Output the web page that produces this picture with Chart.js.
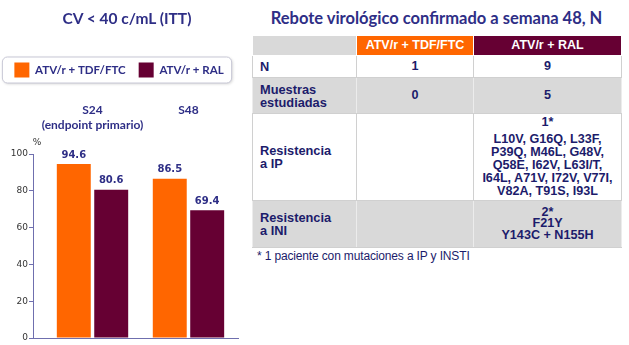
<!DOCTYPE html>
<html><head><meta charset="utf-8">
<script src="https://cdn.jsdelivr.net/npm/chart.js@4"></script>
<style>
html,body{margin:0;padding:0;background:#fff;width:629px;height:345px;overflow:hidden;}
body{position:relative;font-family:'Liberation Sans',Arial,sans-serif;}
#c{position:absolute;left:0;top:0;}
#ctitle{position:absolute;left:27px;width:200px;top:7px;text-align:center;font-family:Lato,sans-serif;font-weight:bold;font-size:15.5px;line-height:22px;color:#2e2e86;white-space:nowrap;}
#ttitle{position:absolute;left:252px;width:369px;top:7px;text-align:center;font-family:Lato,sans-serif;font-weight:bold;font-size:16.5px;line-height:22px;color:#2e2e86;white-space:nowrap;}
#tbl{position:absolute;left:252px;top:35px;border-collapse:collapse;table-layout:fixed;width:369px;}
#tbl td{padding:0;font-weight:bold;font-size:12.6px;color:#1c1c6b;text-align:center;vertical-align:middle;border:1px solid #d0d0d0;line-height:13px;white-space:nowrap;}
#tbl td.lab{text-align:left;padding-left:7px;font-size:12.8px;}
#tbl tr.gray td{background:#d9d9d9;border-left-color:#ececec;border-right-color:#ececec;}
#tbl tr.hdr td{color:#fff;font-size:12.5px;height:19px;border-color:#fff;}
#tbl tr.hdr td.h0{background:#d9d9d9;}
#tbl tr.hdr td.h1{background:#ff6600;}
#tbl tr.hdr td.h2{background:#660033;}
#tbl tr.r0 td{height:21px;}
#tbl tr.r1 td{height:35px;}
#tbl tr.r2 td{height:86px;}
#tbl tr.r2 td.v div:first-child{margin-bottom:4.5px;}
#tbl tr.r3 td{height:46px;line-height:11.5px;}
#tbl tr.r3 td.lab{line-height:13px;}
#foot{position:absolute;left:257px;top:249px;font-size:12px;color:#1c1c6b;white-space:nowrap;letter-spacing:-0.15px;}
</style>
</head><body>
<canvas id="c" width="250" height="345"></canvas>
<div id="ctitle"></div>
<div id="ttitle"></div>
<table id="tbl"><colgroup><col style="width:104px"><col style="width:117px"><col style="width:148px"></colgroup><tbody></tbody></table>
<div id="foot"></div>
<script>
// ---- chart data ----
const chartTitle = 'CV < 40 c/mL (ITT)';
const categories = ['S24', 'S48'];
const categorySub = ['(endpoint primario)', ''];
const seriesNames = ['ATV/r + TDF/FTC', 'ATV/r + RAL'];
const tdfPct = [94.6, 86.5];
const ralPct = [80.6, 69.4];
const yTicks = [0, 20, 40, 60, 80, 100];
const yUnit = '%';

// ---- table data ----
const tableTitle = 'Rebote virológico confirmado a semana 48, N';
const tableGroups = ['ATV/r + TDF/FTC', 'ATV/r + RAL'];
const tableRows = ['N', 'Muestras\nestudiadas', 'Resistencia\na IP', 'Resistencia\na INI'];
const tdfValues = ['1', '0', '', ''];
const ralValues = ['9', '5',
  '1*\nL10V, G16Q, L33F,\nP39Q, M46L, G48V,\nQ58E, I62V, L63I/T,\nI64L, A71V, I72V, V77I,\nV82A, T91S, I93L',
  '2*\nF21Y\nY143C + N155H'];
const footnote = '* 1 paciente con mutaciones a IP y INSTI';

const ORANGE = '#ff6600', MAROON = '#660033', NAVY = '#2e2e86', AXIS = '#6f6fae';

document.getElementById('ctitle').textContent = chartTitle;
document.getElementById('ttitle').textContent = tableTitle;
document.getElementById('foot').textContent = footnote;
const tb = document.querySelector('#tbl tbody');
{
  const tr = document.createElement('tr'); tr.className = 'hdr';
  ['', ...tableGroups].forEach((t, i) => { const td = document.createElement('td'); td.className = 'h' + i; td.textContent = t; tr.appendChild(td); });
  tb.appendChild(tr);
}
tableRows.forEach((r, i) => {
  const tr = document.createElement('tr'); tr.className = 'r' + i + (i % 2 ? ' gray' : '');
  [r, tdfValues[i], ralValues[i]].forEach((t, j) => {
    const td = document.createElement('td'); td.className = j === 0 ? 'lab' : 'v';
    t.split('\n').forEach(line => { const d = document.createElement('div'); d.textContent = line; td.appendChild(d); });
    tr.appendChild(td);
  });
  tb.appendChild(tr);
});

const legendBox = {
  id: 'legendBox',
  beforeDraw(chart) {
    const hb = chart.legend.legendHitBoxes; if (!hb || !hb.length) return;
    const last = hb[hb.length - 1];
    const x0 = hb[0].left - 12, x1 = last.left + last.width + 8;
    const y0 = hb[0].top - 5.5, y1 = hb[0].top + hb[0].height + 5.5;
    const c = chart.ctx; c.save();
    c.shadowColor = 'rgba(0,0,0,0.18)'; c.shadowBlur = 3; c.shadowOffsetX = 1; c.shadowOffsetY = 1;
    c.beginPath(); c.roundRect(x0, y0, x1 - x0, y1 - y0, 5); c.fillStyle = '#fff'; c.fill();
    c.shadowColor = 'transparent'; c.strokeStyle = '#c8c8d6'; c.lineWidth = 1; c.stroke();
    c.restore();
  }
};
const valueLabels = {
  id: 'valueLabels',
  afterDatasetsDraw(chart) {
    const c = chart.ctx; c.save();
    c.font = 'bold 10px "DejaVu Sans"'; c.fillStyle = NAVY; c.textAlign = 'center'; c.textBaseline = 'bottom';
    chart.data.datasets.forEach((ds, di) => {
      chart.getDatasetMeta(di).data.forEach((el, i) => { c.fillText(ds.data[i].y.toFixed(1), el.x, el.y - 4); });
    });
    c.restore();
  }
};
const unitLabel = {
  id: 'unitLabel',
  afterDraw(chart) {
    const c = chart.ctx, a = chart.chartArea; c.save();
    c.font = '9px "DejaVu Sans"'; c.fillStyle = '#333'; c.textAlign = 'center'; c.textBaseline = 'middle';
    c.fillText(yUnit, a.left + 4, a.top - 11); c.restore();
  }
};

const catTicks = s => { s.ticks = categories.map((c, i) => ({ value: i + 1 })); };

new Chart(document.getElementById('c'), {
  type: 'bar',
  data: {
    datasets: [
      { label: seriesNames[0], data: tdfPct.map((v, i) => ({ x: i + 1, y: v })), backgroundColor: ORANGE, borderWidth: 0, categoryPercentage: 0.78, barPercentage: 0.907 },
      { label: seriesNames[1], data: ralPct.map((v, i) => ({ x: i + 1, y: v })), backgroundColor: MAROON, borderWidth: 0, categoryPercentage: 0.78, barPercentage: 0.907 }
    ]
  },
  options: {
    responsive: false, animation: false, devicePixelRatio: 1,
    layout: { padding: { left: 0, right: 12, top: 49.5, bottom: 7 } },
    plugins: {
      title: { display: false },
      legend: { display: true, labels: { boxWidth: 15, boxHeight: 15, padding: 13, color: NAVY, font: { family: 'Lato', size: 11.5, weight: 'bold' } } },
      tooltip: { enabled: false }
    },
    scales: {
      x: { type: 'linear', offset: false, position: 'bottom', min: 0.38, max: 2.516, afterBuildTicks: catTicks, ticks: { display: false }, grid: { display: false, drawTicks: false, offset: false }, border: { display: true, color: AXIS, width: 1 }, afterFit(s) { s.height = 0; } },
      x2: { type: 'linear', offset: false, position: 'top', min: 0.38, max: 2.516, afterBuildTicks: catTicks,
        ticks: { callback: (v, i) => [categories[i], categorySub[i]], color: NAVY, font: { family: 'Lato', size: 12, weight: 'bold', lineHeight: 1.25 }, padding: 21, maxRotation: 0, autoSkip: false },
        grid: { display: false, drawTicks: false, offset: false }, border: { display: false }, afterFit(s) { s.height = 66.5; } },
      y: { min: 0, max: 100, afterBuildTicks(s) { s.ticks = yTicks.map(v => ({ value: v })); },
        ticks: { color: '#333', font: { family: 'DejaVu Sans', size: 9 }, padding: 1 },
        grid: { drawOnChartArea: false, drawTicks: true, tickLength: 4, color: AXIS }, border: { display: true, color: AXIS, width: 1 },
        afterFit(s) { s.width = 33; } }
    }
  },
  plugins: [legendBox, valueLabels, unitLabel]
});
</script>
</body></html>
